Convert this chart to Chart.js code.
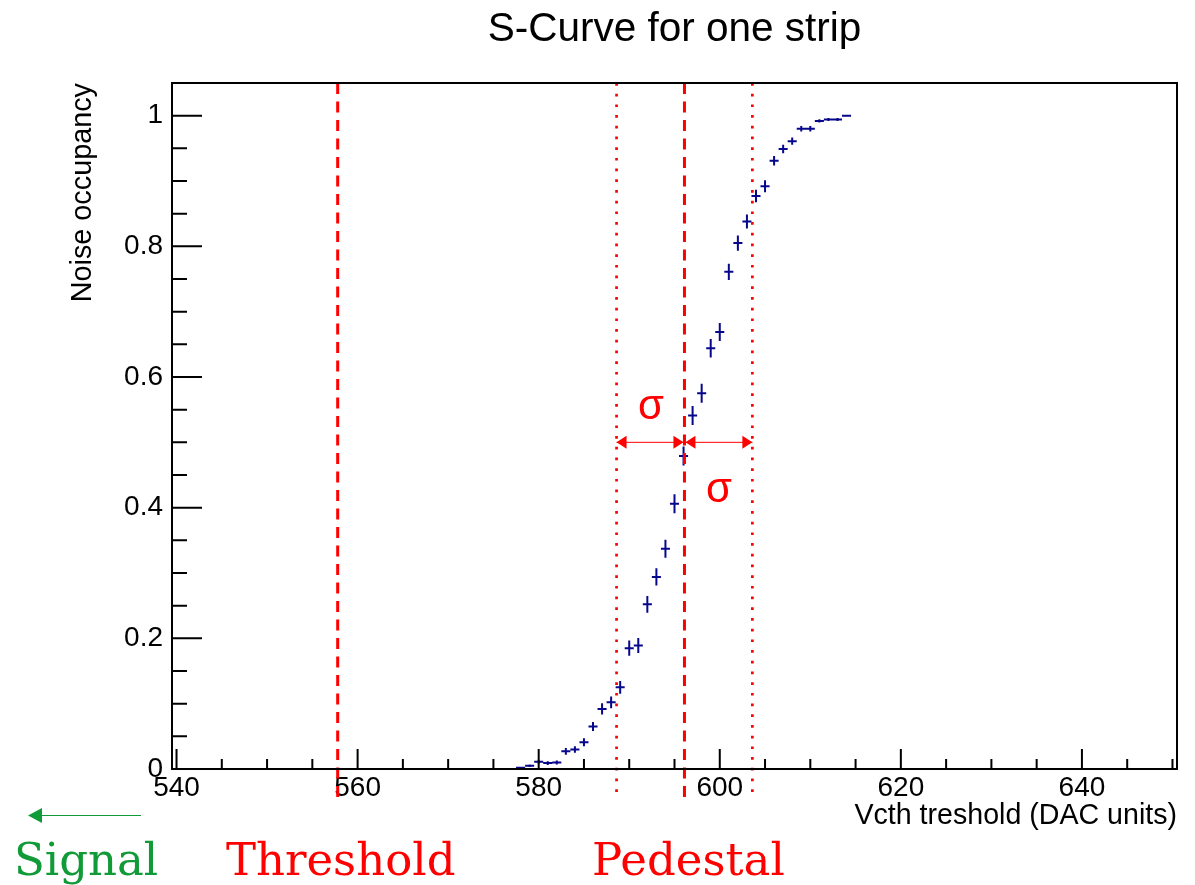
<!DOCTYPE html>
<html>
<head>
<meta charset="utf-8">
<title>S-Curve for one strip</title>
<script src="https://cdn.jsdelivr.net/npm/chart.js@4.4.1/dist/chart.umd.min.js"></script>
<style>
  html, body { margin: 0; padding: 0; background: #fff; }
  #wrap { position: relative; width: 1195px; height: 885px; }
</style>
</head>
<body>
<div id="wrap"><canvas id="scurve" width="1195" height="885"></canvas></div>
<script>
// Vcth scan of one strip: noise occupancy per DAC step
const vcth = [
  578, 579, 580, 581, 582, 583, 584, 585, 586, 587, 588, 589, 590,
  591, 592, 593, 594, 595, 596, 597, 598, 599, 600, 601, 602, 603,
  604, 605, 606, 607, 608, 609, 610, 611, 612, 613, 614
];
const occupancy = [
  0.002, 0.005, 0.011, 0.009, 0.010, 0.027, 0.030, 0.041, 0.065, 0.092, 0.102, 0.125, 0.185,
  0.189, 0.252, 0.294, 0.337, 0.406, 0.479, 0.541, 0.575, 0.644, 0.669, 0.761, 0.805, 0.838,
  0.877, 0.892, 0.931, 0.949, 0.961, 0.980, 0.980, 0.992, 0.994, 0.994, 1.000
];
const occupancyErr = [
  0.0015, 0.002, 0.003, 0.003, 0.003, 0.005, 0.005, 0.006, 0.007, 0.0085, 0.009, 0.0097, 0.0115,
  0.0115, 0.0127, 0.0133, 0.0138, 0.0144, 0.0146, 0.0146, 0.0145, 0.014, 0.0138, 0.0125, 0.0116, 0.0108,
  0.0096, 0.0091, 0.0074, 0.0064, 0.0057, 0.0041, 0.0041, 0.0026, 0.0023, 0.0023, 0
];
const binHalfWidth = 0.5;

// fit results (DAC units)
const thresholdVcth = 557.8;
const pedestalVcth = 596.1;
const sigmaVcth = 7.5;

const xTickValues = [540, 560, 580, 600, 620, 640];
const yTickValues = [0, 0.2, 0.4, 0.6, 0.8, 1];
const yTickLabels = ["0", "0.2", "0.4", "0.6", "0.8", "1"];

const SANS = "'Liberation Sans', Arial, Helvetica, sans-serif";
const SERIF = "'DejaVu Serif', 'Liberation Serif', serif";
const RED = "#ff0000";
const GREEN = "#119a38";
const POINT_COLOR = "#07078c";

function arrowHead(ctx, tipX, tipY, dir, len, half) {
  ctx.beginPath();
  ctx.moveTo(tipX, tipY);
  ctx.lineTo(tipX - dir * len, tipY - half);
  ctx.lineTo(tipX - dir * len, tipY + half);
  ctx.closePath();
  ctx.fill();
}

function vline(ctx, x, top, bottom, dash, width) {
  ctx.save();
  ctx.strokeStyle = RED;
  ctx.lineWidth = width;
  ctx.setLineDash(dash);
  ctx.beginPath();
  ctx.moveTo(x, top);
  ctx.lineTo(x, bottom);
  ctx.stroke();
  ctx.restore();
}

/* ---- error bars, frame with inward ticks, fit markers, labels ---- */
const sCurveDecor = {
  id: "sCurveDecor",
  afterDatasetsDraw(chart) {
    const { ctx, scales: { x, y } } = chart;
    ctx.save();
    ctx.strokeStyle = POINT_COLOR;
    ctx.lineWidth = 2;
    ctx.beginPath();
    for (let i = 0; i < vcth.length; i++) {
      const px = x.getPixelForValue(vcth[i]);
      const py = y.getPixelForValue(occupancy[i]);
      ctx.moveTo(x.getPixelForValue(vcth[i] - binHalfWidth), py);
      ctx.lineTo(x.getPixelForValue(vcth[i] + binHalfWidth), py);
      if (occupancyErr[i] > 0) {
        ctx.moveTo(px, y.getPixelForValue(occupancy[i] - occupancyErr[i]));
        ctx.lineTo(px, y.getPixelForValue(occupancy[i] + occupancyErr[i]));
      }
    }
    ctx.stroke();
    ctx.restore();
  },
  afterDraw(chart) {
    const { ctx, chartArea: a, scales: { x, y } } = chart;
    const lineBottom = 799;

    // threshold and pedestal (dashed), pedestal +/- sigma (dotted)
    vline(ctx, x.getPixelForValue(thresholdVcth), a.top, lineBottom, [11, 7.5], 3);
    vline(ctx, x.getPixelForValue(pedestalVcth), a.top, lineBottom, [11, 7.5], 3);
    vline(ctx, x.getPixelForValue(pedestalVcth - sigmaVcth), a.top, lineBottom, [2.7, 8], 2.7);
    vline(ctx, x.getPixelForValue(pedestalVcth + sigmaVcth), a.top, lineBottom, [2.7, 8], 2.7);

    // sigma arrows at half occupancy
    const ay = y.getPixelForValue(0.5);
    const xl = x.getPixelForValue(pedestalVcth - sigmaVcth);
    const xc = x.getPixelForValue(pedestalVcth);
    const xr = x.getPixelForValue(pedestalVcth + sigmaVcth);
    ctx.save();
    ctx.strokeStyle = RED;
    ctx.fillStyle = RED;
    ctx.lineWidth = 1;
    ctx.beginPath();
    ctx.moveTo(xl, ay);
    ctx.lineTo(xr, ay);
    ctx.stroke();
    arrowHead(ctx, xl, ay, -1, 10, 6.5);
    arrowHead(ctx, xc - 1, ay, 1, 10, 6.5);
    arrowHead(ctx, xc + 1, ay, -1, 10, 6.5);
    arrowHead(ctx, xr, ay, 1, 10, 6.5);

    ctx.font = "42px " + SANS;
    ctx.textAlign = "center";
    ctx.textBaseline = "middle";
    ctx.fillText("σ", x.getPixelForValue(592.4), y.getPixelForValue(0.553));
    ctx.fillText("σ", x.getPixelForValue(599.9), y.getPixelForValue(0.426));
    ctx.restore();

    // frame
    ctx.save();
    ctx.strokeStyle = "#000";
    ctx.lineWidth = 2;
    ctx.strokeRect(a.left, a.top, a.right - a.left, a.bottom - a.top);

    // x ticks: major every 20, minor every 5 (pointing up into the frame)
    ctx.beginPath();
    for (let v = 540; v <= x.max; v += 5) {
      const px = x.getPixelForValue(v);
      const len = v % 20 === 0 ? 20 : 10;
      ctx.moveTo(px, a.bottom);
      ctx.lineTo(px, a.bottom - len);
    }
    // y ticks: major every 0.2, minor every 0.05
    for (let k = 1; k * 0.05 < y.max - 0.001; k++) {
      const py = y.getPixelForValue(k * 0.05);
      const len = k % 4 === 0 ? 30 : 15;
      ctx.moveTo(a.left, py);
      ctx.lineTo(a.left + len, py);
    }
    ctx.stroke();
    ctx.restore();

    // signal direction and marker names below the axis
    ctx.save();
    ctx.strokeStyle = GREEN;
    ctx.fillStyle = GREEN;
    ctx.lineWidth = 1;
    ctx.beginPath();
    ctx.moveTo(40, 815.5);
    ctx.lineTo(141, 815.5);
    ctx.stroke();
    arrowHead(ctx, 28, 815.5, -1, 14, 7.5);

    ctx.font = "45px " + SERIF;
    ctx.textBaseline = "alphabetic";
    ctx.textAlign = "left";
    ctx.fillText("Signal", 14, 875);
    ctx.fillStyle = RED;
    ctx.textAlign = "center";
    ctx.fillText("Threshold", x.getPixelForValue(thresholdVcth) + 3, 875);
    ctx.fillText("Pedestal", x.getPixelForValue(pedestalVcth) + 4, 875);
    ctx.restore();
  },
};

const el = document.getElementById("scurve");
new Chart(el.getContext("2d"), {
  type: "scatter",
  data: {
    datasets: [
      {
        label: "Noise occupancy",
        data: vcth.map((v, i) => ({ x: v, y: occupancy[i] })),
        pointRadius: 0,
        pointHoverRadius: 0,
        showLine: false,
      },
    ],
  },
  options: {
    responsive: false,
    animation: false,
    devicePixelRatio: 1,
    layout: { padding: { left: 0, right: 18, top: 0, bottom: 0 } },
    plugins: {
      legend: { display: false },
      tooltip: { enabled: false },
      title: {
        display: true,
        text: "S-Curve for one strip",
        fullSize: false,
        color: "#000",
        font: { family: SANS, size: 40.5, weight: "normal" },
        padding: { top: 6, bottom: 28.4 },
      },
    },
    scales: {
      x: {
        type: "linear",
        min: 539.5,
        max: 650.5,
        afterBuildTicks: (s) => {
          s.ticks = xTickValues.map((v) => ({ value: v }));
        },
        afterFit: (s) => {
          s.height = 116;
        },
        grid: { display: false, drawTicks: false },
        border: { display: false },
        ticks: {
          color: "#000",
          font: { family: SANS, size: 28 },
          padding: 2,
          maxRotation: 0,
          autoSkip: false,
        },
        title: {
          display: true,
          text: "Vcth treshold (DAC units)",
          align: "end",
          color: "#000",
          font: { family: SANS, size: 28.6 },
          padding: { top: 0, bottom: 52 },
        },
      },
      y: {
        type: "linear",
        min: 0,
        max: 1.05,
        afterBuildTicks: (s) => {
          s.ticks = yTickValues.map((v) => ({ value: v }));
        },
        afterFit: (s) => {
          s.width = 172;
        },
        grid: { display: false, drawTicks: false },
        border: { display: false },
        ticks: {
          color: "#000",
          font: { family: SANS, size: 28 },
          padding: 9,
          autoSkip: false,
          callback: (value, index) => yTickLabels[index],
        },
        title: {
          display: true,
          text: "Noise occupancy",
          align: "end",
          color: "#000",
          font: { family: SANS, size: 28.8 },
          padding: { top: 66, bottom: 0 },
        },
      },
    },
  },
  plugins: [sCurveDecor],
});
</script>
</body>
</html>
